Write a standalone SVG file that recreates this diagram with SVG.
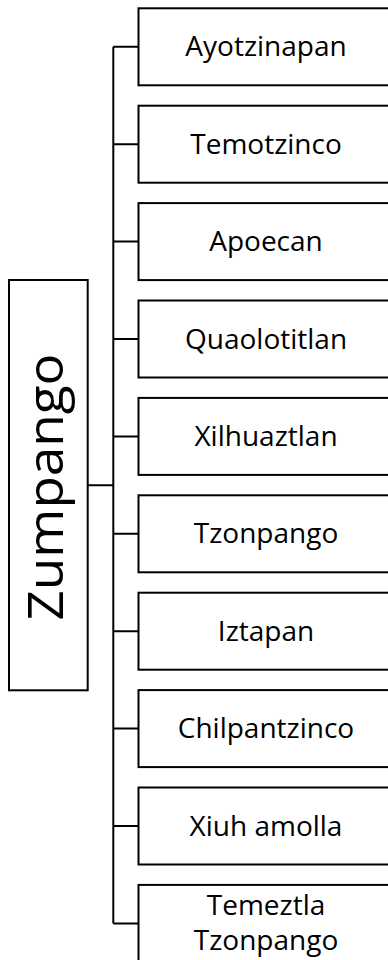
<svg xmlns="http://www.w3.org/2000/svg" width="388" height="960" viewBox="0 0 388 960">
<style>
.box{fill:#fff;stroke:#000;stroke-width:2}
.lbl{font-family:"Open Sans","Noto Sans",sans-serif;font-size:28px;fill:#000;text-anchor:middle}
.root{font-family:"Open Sans","Noto Sans",sans-serif;font-size:50px;fill:#000;text-anchor:middle}
.conn{fill:none;stroke:#000;stroke-width:2}
</style>
<rect width="388" height="960" fill="#fff"/>
<g id="connectors" class="conn">
<path d="M87.7,485.3H113.3M113.3,46.8V923.4"/>
<path d="M113.3,46.8H138.5M113.3,144.2H138.5M113.3,241.6H138.5M113.3,339H138.5M113.3,436.4H138.5M113.3,533.8H138.5M113.3,631.2H138.5M113.3,728.6H138.5M113.3,826H138.5M113.3,923.4H138.5"/>
</g>
<g id="zumpango">
<rect class="box" x="9" y="280" width="78.7" height="410.3"/>
<text class="root" transform="translate(62.7,487) rotate(-90)" textLength="267" lengthAdjust="spacingAndGlyphs">Zumpango</text>
</g>
<g id="n1"><rect class="box" x="138.5" y="8.3" width="260" height="77"/><text class="lbl" x="266" y="56.3">Ayotzinapan</text></g>
<g id="n2"><rect class="box" x="138.5" y="105.7" width="260" height="77"/><text class="lbl" x="266" y="153.7">Temotzinco</text></g>
<g id="n3"><rect class="box" x="138.5" y="203.1" width="260" height="77"/><text class="lbl" x="266" y="251.1">Apoecan</text></g>
<g id="n4"><rect class="box" x="138.5" y="300.5" width="260" height="77"/><text class="lbl" x="266" y="348.5">Quaolotitlan</text></g>
<g id="n5"><rect class="box" x="138.5" y="397.9" width="260" height="77"/><text class="lbl" x="266" y="445.9">Xilhuaztlan</text></g>
<g id="n6"><rect class="box" x="138.5" y="495.3" width="260" height="77"/><text class="lbl" x="266" y="543.3">Tzonpango</text></g>
<g id="n7"><rect class="box" x="138.5" y="592.7" width="260" height="77"/><text class="lbl" x="266" y="640.7">Iztapan</text></g>
<g id="n8"><rect class="box" x="138.5" y="690.1" width="260" height="77"/><text class="lbl" x="266" y="738.1">Chilpantzinco</text></g>
<g id="n9"><rect class="box" x="138.5" y="787.5" width="260" height="77"/><text class="lbl" x="266" y="835.5">Xiuh amolla</text></g>
<g id="n10"><rect class="box" x="138.5" y="884.9" width="260" height="77"/><text class="lbl" x="266" y="915">Temeztla</text><text class="lbl" x="266" y="950">Tzonpango</text></g>
</svg>
